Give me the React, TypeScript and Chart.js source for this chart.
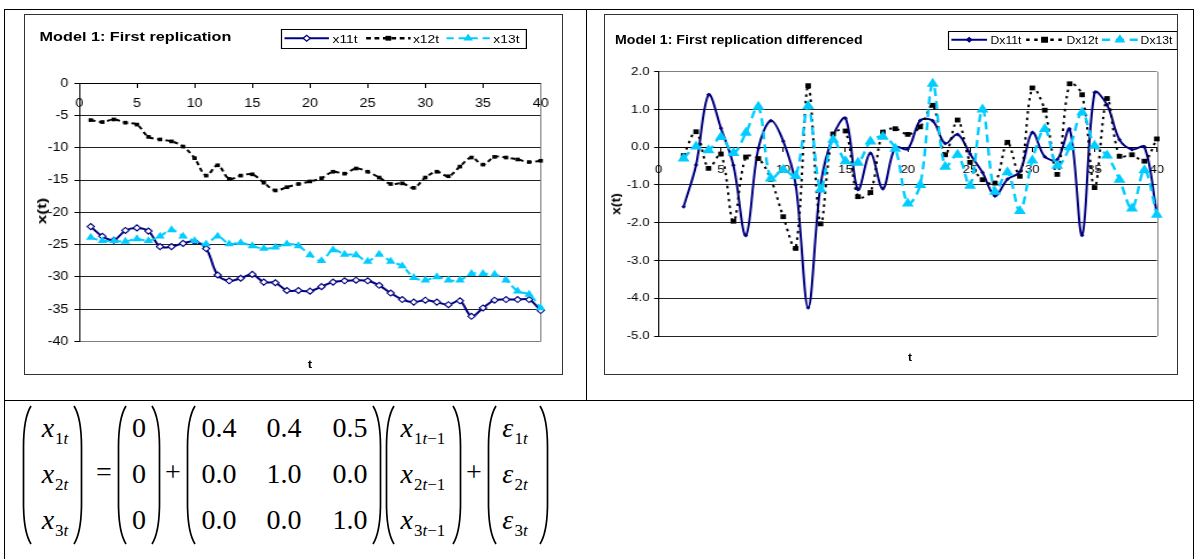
import React, { useEffect, useRef } from 'react';
import { Chart, registerables } from 'chart.js';

Chart.register(...registerables);

const SANS = '"Liberation Sans", Arial, Helvetica, sans-serif';
const SERIF = '"Liberation Serif", "Times New Roman", Times, serif';
const NAVY = '#000080';
const CYAN = '#00CCFF';
const GRID = '#222222';
const BORDER_GRAY = '#808080';

// ---------------- data ----------------
const T = [1, 2, 3, 4, 5, 6, 7, 8, 9, 10, 11, 12, 13, 14, 15, 16, 17, 18, 19, 20,
  21, 22, 23, 24, 25, 26, 27, 28, 29, 30, 31, 32, 33, 34, 35, 36, 37, 38, 39, 40];

const X11T = [-22.2, -23.7, -24.3, -22.8, -22.4, -22.9, -25.3, -25.3, -24.8, -24.5,
  -25.6, -29.7, -30.6, -30.2, -29.6, -30.8, -30.9, -32.1, -32.1, -32.2,
  -31.5, -30.8, -30.6, -30.5, -30.6, -31.3, -32.5, -33.5, -33.9, -33.6,
  -33.9, -34.3, -33.7, -36.1, -34.8, -33.6, -33.5, -33.5, -33.5, -35.2];

const X12T = [-5.7, -6.0, -5.6, -6.1, -6.4, -8.3, -8.7, -9.0, -9.8, -11.6,
  -14.3, -12.7, -14.8, -14.3, -14.1, -15.4, -16.6, -16.1, -15.6, -15.2,
  -14.7, -13.7, -14.0, -13.2, -13.7, -14.6, -15.6, -15.5, -16.2, -14.6,
  -13.7, -14.4, -12.9, -11.5, -12.6, -11.4, -11.5, -11.8, -12.2, -12.0];

const X13T = [-23.9, -24.4, -24.4, -24.5, -24.1, -24.4, -23.7, -22.7, -23.7, -24.4,
  -24.9, -23.7, -24.9, -24.7, -25.2, -25.6, -25.4, -24.9, -25.2, -26.6,
  -27.5, -25.8, -26.5, -26.6, -27.6, -26.5, -27.6, -28.3, -30.1, -30.5,
  -30.0, -30.5, -30.5, -29.5, -29.5, -29.6, -30.5, -32.2, -32.7, -34.8];

const TD = [2, 3, 4, 5, 6, 7, 8, 9, 10, 11, 12, 13, 14, 15, 16, 17, 18, 19, 20,
  21, 22, 23, 24, 25, 26, 27, 28, 29, 30, 31, 32, 33, 34, 35, 36, 37, 38, 39, 40];

const DX11T = [-1.58, -0.47, 1.39, 0.5, -0.48, -2.34, -0.03, 0.7, 0.16,
  -1.0, -4.25, -1.0, 0.3, 0.77, -1.12, -0.16, -1.1, 0.0, -0.05,
  0.71, 0.7, 0.1, 0.34, -0.18, -0.67, -1.29, -0.85, -0.65, 0.39,
  -0.25, -0.33, 0.48, -2.33, 1.45, 1.12, 0.2, -0.06, 0.01, -1.76];

const DX12T = [-0.22, 0.41, -0.56, -0.18, -1.96, -0.26, -0.3, -0.85, -1.84,
  -2.68, 1.63, -2.03, 0.35, 0.43, -1.31, -1.2, 0.4, 0.49, 0.34,
  0.54, 1.11, -0.2, 0.72, -0.4, -0.86, -0.95, 0.13, -0.77, 1.57,
  0.98, -0.72, 1.68, 1.39, -1.07, 1.29, -0.24, -0.2, -0.37, 0.22];

const DX13T = [-0.3, 0.02, -0.08, 0.27, -0.15, 0.38, 1.07, -0.83, -0.6,
  -0.76, 1.09, -1.12, 0.2, -0.37, -0.41, 0.15, 0.28, -0.04, -1.49,
  -1.0, 1.68, -0.52, -0.2, -1.02, 1.0, -1.18, -0.66, -1.69, -0.35,
  0.48, -0.49, 0.0, 0.92, 0.04, -0.22, -0.86, -1.62, -0.61, -1.79];

const LEFT_LABELS = ['x11t', 'x12t', 'x13t'];
const RIGHT_LABELS = ['Dx11t', 'Dx12t', 'Dx13t'];
const LEFT_TITLE = 'Model 1: First replication';
const RIGHT_TITLE = 'Model 1: First replication differenced';
const Y_TITLE = 'x(t)';
const X_TITLE = 't';
const X_RANGE = { min: 0, max: 40, step: 5 };
const LEFT_Y = { min: -40, max: 0, step: 5 };
const RIGHT_Y = { min: -5, max: 2, step: 1 };

const VAR_IDX = ['1', '2', '3'];
const CONST_VEC = ['0', '0', '0'];
const COEF = [
  ['0.4', '0.4', '0.5'],
  ['0.0', '1.0', '0.0'],
  ['0.0', '0.0', '1.0'],
];

// ---------------- helpers ----------------
const pts = (xs: number[], ys: number[]) => xs.map((x, i) => ({ x, y: ys[i] }));

const rightEdge = {
  id: 'rightEdge',
  beforeDatasetsDraw(chart: any) {
    const { ctx, chartArea: a } = chart;
    const x = Math.round(a.right) + 0.5;
    ctx.save();
    ctx.strokeStyle = BORDER_GRAY;
    ctx.lineWidth = 1;
    ctx.beginPath();
    ctx.moveTo(x, a.top);
    ctx.lineTo(x, a.bottom);
    ctx.stroke();
    ctx.restore();
  },
};

type ChartSpec = {
  datasets: any[];
  yRange: { min: number; max: number; step: number };
  yFmt: (v: number) => string;
  grayValue: number;
  tickFont: number;
  yAxisWidth: number;
  yPad: number;
  xPad: number;
  padding: { top: number; right: number; bottom: number };
};

function buildConfig(s: ChartSpec): any {
  return {
    type: 'line',
    data: { datasets: s.datasets },
    plugins: [rightEdge],
    options: {
      animation: false,
      responsive: false,
      maintainAspectRatio: false,
      events: [],
      layout: { padding: { left: 0, top: s.padding.top, right: s.padding.right, bottom: s.padding.bottom } },
      plugins: { legend: { display: false }, tooltip: { enabled: false }, title: { display: false } },
      scales: {
        x: {
          type: 'linear',
          min: X_RANGE.min,
          max: X_RANGE.max,
          position: { y: 0 },
          ticks: {
            stepSize: X_RANGE.step,
            autoSkip: false,
            maxRotation: 0,
            color: '#000',
            padding: s.xPad,
            font: { family: SANS, size: s.tickFont },
          },
          grid: { drawOnChartArea: false, drawTicks: true, tickLength: 4, color: '#000' },
          border: { color: '#000', width: 1 },
        },
        y: {
          type: 'linear',
          min: s.yRange.min,
          max: s.yRange.max,
          position: 'left',
          ticks: {
            stepSize: s.yRange.step,
            autoSkip: false,
            color: '#000',
            padding: s.yPad,
            font: { family: SANS, size: s.tickFont },
            callback: (v: any) => s.yFmt(Number(v)),
          },
          grid: {
            color: (c: any) => (c.tick && c.tick.value === s.grayValue ? BORDER_GRAY : GRID),
            tickColor: '#000',
            drawTicks: true,
            tickLength: 4,
          },
          border: { color: '#000', width: 1 },
          afterFit: (scale: any) => {
            scale.width = s.yAxisWidth;
          },
        },
      },
    },
  };
}

// ---------------- legend ----------------
type LegItem = {
  label: string;
  color: string;
  dash?: string;
  lw: number;
  marker: 'diamond' | 'square' | 'triangle';
  r: number;
  fill: string;
  x: number;
  w: number;
  tx: number;
};

function Marker({ m, cx, cy, r, fill, stroke }: any) {
  if (m === 'diamond') {
    return <polygon points={`${cx - r},${cy} ${cx},${cy - r} ${cx + r},${cy} ${cx},${cy + r}`} fill={fill} stroke={stroke} strokeWidth={1.1} />;
  }
  if (m === 'square') {
    return <rect x={cx - r} y={cy - r} width={2 * r} height={2 * r} fill={fill} />;
  }
  const h = r * 0.866;
  return <polygon points={`${cx},${cy - r} ${cx + h},${cy + r / 2} ${cx - h},${cy + r / 2}`} fill={fill} />;
}

function Legend({ left, top, width, height, items, font }: any) {
  const cy = height / 2 - 1;
  return (
    <div style={{ position: 'absolute', left, top, width, height, border: '1px solid #000', boxSizing: 'border-box', background: '#fff' }}>
      <svg width={width} height={height} style={{ position: 'absolute', left: -1, top: -1 }}>
        {items.map((it: LegItem) => (
          <g key={it.label}>
            <line x1={it.x} y1={cy} x2={it.x + it.w} y2={cy} stroke={it.color} strokeWidth={it.lw} strokeDasharray={it.dash} />
            <Marker m={it.marker} cx={it.x + it.w / 2} cy={cy} r={it.r} fill={it.fill} stroke={it.color} />
          </g>
        ))}
      </svg>
      {items.map((it: LegItem) => (
        <div key={it.label + 't'} style={{ position: 'absolute', left: it.tx - 1, top: 0, height: height - 2, lineHeight: `${height - 2}px`, fontFamily: SANS, fontSize: font, color: '#000', whiteSpace: 'nowrap' }}>
          {it.label}
        </div>
      ))}
    </div>
  );
}

// ---------------- chart panel ----------------
function Panel({ box, wu, config, children }: any) {
  const ref = useRef<HTMLCanvasElement>(null);
  useEffect(() => {
    const chart = new Chart(ref.current as HTMLCanvasElement, config());
    return () => chart.destroy();
  }, []);
  const k = box.w / wu;
  return (
    <>
      <div style={{ position: 'absolute', left: box.x, top: box.y, width: wu, height: box.h, transform: `scaleX(${k})`, transformOrigin: '0 0' }}>
        <canvas ref={ref} width={wu} height={box.h} style={{ position: 'absolute', left: 0, top: 0 }} />
        {children}
      </div>
      <div style={{ position: 'absolute', left: box.x, top: box.y, width: box.w, height: box.h, border: '1px solid #333', boxSizing: 'border-box', pointerEvents: 'none' }} />
    </>
  );
}

function RotTitle({ cx, cy, size, stretch }: any) {
  return (
    <div style={{ position: 'absolute', left: cx, top: cy, transform: `translate(-50%, -50%) rotate(-90deg) scaleX(${stretch})`, fontFamily: SANS, fontWeight: 'bold', fontSize: size, lineHeight: 1, whiteSpace: 'nowrap' }}>
      {Y_TITLE}
    </div>
  );
}

function XTitle({ cx, cy, size }: any) {
  return (
    <div style={{ position: 'absolute', left: cx, top: cy, transform: 'translate(-50%, -50%)', fontFamily: SANS, fontWeight: 'bold', fontSize: size, lineHeight: 1 }}>
      {X_TITLE}
    </div>
  );
}

const LEFT_BOX = { x: 24, y: 14, w: 539, h: 361 };
const LEFT_WU = 449;
const RIGHT_BOX = { x: 604, y: 14, w: 574, h: 361 };
const RIGHT_WU = 499;

function LeftChart() {
  const config = () =>
    buildConfig({
      datasets: [
        { label: LEFT_LABELS[0], data: pts(T, X11T), borderColor: NAVY, borderWidth: 2, tension: 0.35, pointStyle: 'rectRot', pointRadius: 3, pointBackgroundColor: '#fff', pointBorderColor: NAVY, pointBorderWidth: 1.1, order: 2, clip: false },
        { label: LEFT_LABELS[1], data: pts(T, X12T), borderColor: '#000', borderWidth: 2, borderDash: [4, 3], tension: 0.35, pointStyle: 'rect', pointRadius: 2.6, pointBackgroundColor: '#000', pointBorderColor: '#000', pointBorderWidth: 0, order: 1, clip: false },
        { label: LEFT_LABELS[2], data: pts(T, X13T), borderColor: CYAN, borderWidth: 2, borderDash: [6, 4], tension: 0.35, pointStyle: 'triangle', pointRadius: 4.6, pointBackgroundColor: CYAN, pointBorderColor: CYAN, pointBorderWidth: 0, order: 0, clip: false },
      ],
      yRange: LEFT_Y,
      yFmt: (v) => String(v),
      grayValue: LEFT_Y.min,
      tickFont: 12,
      yAxisWidth: 46,
      yPad: 5,
      xPad: 9.5,
      padding: { top: 69.3, right: 18.6, bottom: 33.5 },
    });
  const items: LegItem[] = [
    { label: LEFT_LABELS[0], color: NAVY, lw: 2, marker: 'diamond', r: 3, fill: '#fff', x: 3, w: 37, tx: 43 },
    { label: LEFT_LABELS[1], color: '#000', lw: 2.5, dash: '4 3', marker: 'square', r: 2.4, fill: '#000', x: 71, w: 37, tx: 110 },
    { label: LEFT_LABELS[2], color: CYAN, lw: 2, dash: '6 4', marker: 'triangle', r: 4.6, fill: CYAN, x: 138, w: 36, tx: 177 },
  ];
  return (
    <Panel box={LEFT_BOX} wu={LEFT_WU} config={config}>
      <div style={{ position: 'absolute', left: 13, top: 14.5, lineHeight: '16px', fontFamily: SANS, fontWeight: 'bold', fontSize: 13.5, whiteSpace: 'nowrap' }}>{LEFT_TITLE}</div>
      <Legend left={214} top={14.5} width={205} height={20.5} items={items} font={11.5} />
      <RotTitle cx={15} cy={197} size={11} stretch={1.55} />
      <XTitle cx={238.3} cy={350} size={11} />
    </Panel>
  );
}

function RightChart() {
  const config = () =>
    buildConfig({
      datasets: [
        { label: RIGHT_LABELS[0], data: pts(TD, DX11T), borderColor: NAVY, borderWidth: 2, tension: 0.35, pointStyle: 'rectRot', pointRadius: 2, pointBackgroundColor: NAVY, pointBorderColor: NAVY, pointBorderWidth: 0, order: 2, clip: false },
        { label: RIGHT_LABELS[1], data: pts(TD, DX12T), borderColor: '#000', borderWidth: 2, borderDash: [2.5, 4], tension: 0.35, pointStyle: 'rect', pointRadius: 3.4, pointBackgroundColor: '#000', pointBorderColor: '#000', pointBorderWidth: 0, order: 1, clip: false },
        { label: RIGHT_LABELS[2], data: pts(TD, DX13T), borderColor: CYAN, borderWidth: 2.4, borderDash: [8, 5], tension: 0.35, pointStyle: 'triangle', pointRadius: 6, pointBackgroundColor: CYAN, pointBorderColor: CYAN, pointBorderWidth: 0, order: 0, clip: false },
      ],
      yRange: RIGHT_Y,
      yFmt: (v) => v.toFixed(1),
      grayValue: RIGHT_Y.max,
      tickFont: 11.5,
      yAxisWidth: 47.55,
      yPad: 4,
      xPad: 12,
      padding: { top: 57.7, right: 15.65, bottom: 39 },
    });
  const items: LegItem[] = [
    { label: RIGHT_LABELS[0], color: NAVY, lw: 2, marker: 'diamond', r: 2.2, fill: NAVY, x: 3, w: 31, tx: 37 },
    { label: RIGHT_LABELS[1], color: '#000', lw: 2.5, dash: '3 4', marker: 'square', r: 3, fill: '#000', x: 68, w: 32, tx: 103 },
    { label: RIGHT_LABELS[2], color: CYAN, lw: 2.5, dash: '7 5', marker: 'triangle', r: 5.5, fill: CYAN, x: 134, w: 31, tx: 167.5 },
  ];
  return (
    <Panel box={RIGHT_BOX} wu={RIGHT_WU} config={config}>
      <div style={{ position: 'absolute', left: 9.6, top: 18, lineHeight: '16px', fontFamily: SANS, fontWeight: 'bold', fontSize: 12.3, whiteSpace: 'nowrap' }}>{RIGHT_TITLE}</div>
      <Legend left={299} top={16.5} width={199.5} height={19.5} items={items} font={10.6} />
      <RotTitle cx={10.2} cy={190} size={10.5} stretch={1.33} />
      <XTitle cx={266} cy={343} size={10.5} />
    </Panel>
  );
}

// ---------------- equation ----------------
const EQ_TOP = 405;
const EQ_H = 140;
const ROW_Y = [428, 474, 520];

function Paren({ x, side }: any) {
  const h = EQ_H;
  const d =
    side === 'l'
      ? `M 9 1 C 4 9, 1.5 22, 1.5 42 L 1.5 ${h - 42} C 1.5 ${h - 22}, 4 ${h - 9}, 9 ${h - 1}`
      : `M 1 1 C 6 9, 8.5 22, 8.5 42 L 8.5 ${h - 42} C 8.5 ${h - 22}, 6 ${h - 9}, 1 ${h - 1}`;
  return (
    <svg style={{ position: 'absolute', left: x, top: EQ_TOP }} width={10} height={h}>
      <path d={d} fill="none" stroke="#000" strokeWidth={1.7} />
    </svg>
  );
}

function Cell({ cx, cy, children }: any) {
  return (
    <div style={{ position: 'absolute', left: cx - 60, top: cy - 16, width: 120, height: 32, fontFamily: SERIF, fontSize: 28, lineHeight: '32px', textAlign: 'center', whiteSpace: 'nowrap', color: '#000' }}>
      {children}
    </div>
  );
}

const Sub = ({ children }: any) => <span style={{ fontSize: 17, position: 'relative', top: 7, marginLeft: 1 }}>{children}</span>;
const It = ({ children }: any) => <span style={{ fontStyle: 'italic' }}>{children}</span>;

function Equation() {
  return (
    <>
      <Paren x={22} side="l" />
      {VAR_IDX.map((i, r) => (
        <Cell key={'a' + i} cx={55} cy={ROW_Y[r]}>
          <It>x</It>
          <Sub>
            {i}
            <It>t</It>
          </Sub>
        </Cell>
      ))}
      <Paren x={73} side="r" />
      <Cell cx={104} cy={ROW_Y[1] - 2}>=</Cell>
      <Paren x={117} side="l" />
      {CONST_VEC.map((v, r) => (
        <Cell key={'c' + r} cx={139} cy={ROW_Y[r]}>{v}</Cell>
      ))}
      <Paren x={151} side="r" />
      <Cell cx={173} cy={ROW_Y[1] - 2}>+</Cell>
      <Paren x={186} side="l" />
      {COEF.map((row, r) =>
        row.map((v, c) => (
          <Cell key={'m' + r + c} cx={[219, 284, 350][c]} cy={ROW_Y[r]}>{v}</Cell>
        ))
      )}
      <Paren x={372} side="r" />
      <Paren x={385} side="l" />
      {VAR_IDX.map((i, r) => (
        <Cell key={'l' + i} cx={423} cy={ROW_Y[r]}>
          <It>x</It>
          <Sub>
            {i}
            <It>t</It>−1
          </Sub>
        </Cell>
      ))}
      <Paren x={452} side="r" />
      <Cell cx={474} cy={ROW_Y[1] - 2}>+</Cell>
      <Paren x={487} side="l" />
      {VAR_IDX.map((i, r) => (
        <Cell key={'e' + i} cx={515} cy={ROW_Y[r]}>
          <It>ε</It>
          <Sub>
            {i}
            <It>t</It>
          </Sub>
        </Cell>
      ))}
      <Paren x={539} side="r" />
    </>
  );
}

// ---------------- app ----------------
const Line = ({ x, y, w, h }: any) => <div style={{ position: 'absolute', left: x, top: y, width: w, height: h, background: '#000' }} />;

export default function App() {
  return (
    <div style={{ position: 'absolute', left: 0, top: 0, width: 1196, height: 559, background: '#fff', overflow: 'hidden', fontFamily: SANS }}>
      <Line x={4} y={9} w={1190} h={1} />
      <Line x={4} y={9} w={1} h={560} />
      <Line x={1193} y={9} w={1} h={560} />
      <Line x={586} y={9} w={1} h={392} />
      <Line x={4} y={400} w={1190} h={1} />
      <LeftChart />
      <RightChart />
      <Equation />
    </div>
  );
}
